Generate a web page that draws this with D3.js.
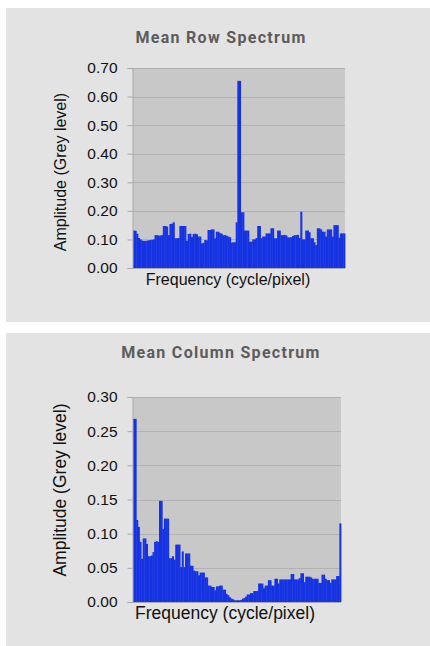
<!doctype html>
<html lang="en">
<head>
    <meta charset="utf-8">
    <title>Mean spectra</title>
    <style>
        body { margin: 0; background: #fff; }
        svg { display: block; }
    </style>
</head>
<body>
<svg id="chart" width="430" height="646"></svg>
<script src="https://d3js.org/d3.v7.min.js"></script>
<script>
    // mean row spectrum amplitudes (128 frequency bins)
    var rowValues = [
        0.131, 0.13, 0.12, 0.105, 0.10, 0.096, 0.095, 0.095, 0.096, 0.097,
        0.098, 0.099, 0.10, 0.115, 0.115, 0.113, 0.114, 0.115, 0.147, 0.147,
        0.145, 0.115, 0.154, 0.155, 0.16, 0.104, 0.104, 0.105, 0.147, 0.147,
        0.147, 0.147, 0.095, 0.119, 0.12, 0.108, 0.119, 0.12, 0.118, 0.11,
        0.11, 0.086, 0.088, 0.098, 0.097, 0.133, 0.133, 0.135, 0.135, 0.104,
        0.127, 0.127, 0.122, 0.12, 0.115, 0.115, 0.113, 0.11, 0.108, 0.089,
        0.09, 0.09, 0.16, 0.655, 0.655, 0.195, 0.195, 0.131, 0.131, 0.131,
        0.092, 0.092, 0.10, 0.10, 0.105, 0.147, 0.147, 0.104, 0.11, 0.11,
        0.121, 0.121, 0.121, 0.139, 0.139, 0.104, 0.104, 0.131, 0.131, 0.115,
        0.115, 0.116, 0.114, 0.107, 0.107, 0.108, 0.112, 0.115, 0.115, 0.116,
        0.105, 0.197, 0.10, 0.10, 0.131, 0.131, 0.125, 0.104, 0.104, 0.09,
        0.08, 0.139, 0.139, 0.135, 0.127, 0.127, 0.11, 0.135, 0.135, 0.135,
        0.11, 0.15, 0.15, 0.15, 0.106, 0.121, 0.121, 0.121
    ];

    // mean column spectrum amplitudes (128 frequency bins)
    var colValues = [
        0.268, 0.268, 0.12, 0.11, 0.088, 0.063, 0.093, 0.093, 0.085, 0.067,
        0.067, 0.068, 0.073, 0.088, 0.089, 0.088, 0.148, 0.148, 0.107, 0.122,
        0.122, 0.122, 0.064, 0.064, 0.067, 0.062, 0.084, 0.084, 0.084, 0.051,
        0.074, 0.051, 0.071, 0.071, 0.071, 0.053, 0.053, 0.046, 0.045, 0.045,
        0.039, 0.043, 0.043, 0.043, 0.036, 0.036, 0.024, 0.024, 0.022, 0.022,
        0.017, 0.023, 0.023, 0.024, 0.024, 0.018, 0.018, 0.012, 0.010, 0.007,
        0.005, 0.004, 0.0025, 0.0025, 0.0025, 0.0025, 0.003, 0.005, 0.006, 0.008,
        0.011, 0.011, 0.013, 0.013, 0.016, 0.016, 0.016, 0.027, 0.027, 0.027,
        0.020, 0.024, 0.024, 0.032, 0.032, 0.024, 0.024, 0.034, 0.034, 0.027,
        0.033, 0.033, 0.033, 0.033, 0.033, 0.033, 0.033, 0.041, 0.041, 0.033,
        0.033, 0.033, 0.035, 0.042, 0.042, 0.029, 0.037, 0.037, 0.037, 0.036,
        0.034, 0.034, 0.034, 0.034, 0.028, 0.028, 0.040, 0.040, 0.034, 0.032,
        0.032, 0.028, 0.033, 0.033, 0.033, 0.038, 0.038, 0.115
    ];

    var rowTicks = [0, 0.1, 0.2, 0.3, 0.4, 0.5, 0.6, 0.7];
    var colTicks = [0, 0.05, 0.1, 0.15, 0.2, 0.25, 0.3];

    var titles = ["Mean Row Spectrum", "Mean Column Spectrum"];
    var yLabel = "Amplitude (Grey level)";
    var xLabel = "Frequency (cycle/pixel)";

    var svg = d3.select("#chart");

    var barColour = "#1533e3";
    var labelFont = "'Liberation Sans', Arial, sans-serif";

    function drawPanel(cfg) {
        var g = svg.append("g");

        // panel background
        g.append("rect")
            .attr("x", 6).attr("y", cfg.top)
            .attr("width", 424).attr("height", cfg.height)
            .attr("fill", "#e3e3e3");

        g.append("text")
            .attr("x", 221).attr("y", cfg.titleY)
            .attr("text-anchor", "middle")
            .style("font-family", "Roboto, 'Noto Sans', sans-serif")
            .style("font-weight", "bold")
            .style("font-size", "16px")
            .style("letter-spacing", "1.3px")
            .style("fill", "#5c5c5c")
            .text(cfg.title);

        var x = d3.scaleBand()
            .domain(d3.range(cfg.values.length))
            .range([cfg.left, cfg.right])
            .padding(0);

        var y = d3.scaleLinear()
            .domain([0, cfg.max])
            .range([cfg.bottom, cfg.plotTop]);

        // plot background
        g.append("rect")
            .attr("x", cfg.left).attr("y", cfg.plotTop)
            .attr("width", cfg.right - cfg.left)
            .attr("height", cfg.bottom - cfg.plotTop)
            .attr("fill", "#c8c8c8");

        // grid
        g.selectAll(".grid")
            .data(cfg.ticks)
            .enter().append("line")
            .attr("x1", cfg.left).attr("x2", cfg.right)
            .attr("y1", function (d) { return Math.round(y(d)) + 0.5; })
            .attr("y2", function (d) { return Math.round(y(d)) + 0.5; })
            .style("stroke", "#b2b2b2")
            .style("stroke-width", 1);

        // bars
        g.selectAll(".bar")
            .data(cfg.values)
            .enter().append("rect")
            .attr("x", function (d, i) { return x(i); })
            .attr("width", x.bandwidth() + 0.4)
            .attr("y", function (d) { return y(d); })
            .attr("height", function (d) { return cfg.bottom - y(d); })
            .attr("fill", barColour);

        // y axis
        var axis = d3.axisLeft(y)
            .tickValues(cfg.ticks)
            .tickFormat(d3.format(".2f"))
            .tickSize(5)
            .tickPadding(10);

        var ax = g.append("g")
            .attr("transform", "translate(" + (cfg.left - 0.5) + ",0)")
            .call(axis);
        ax.select(".domain").style("stroke", "#a8a8a8");
        ax.selectAll(".tick line").style("stroke", "#a8a8a8");
        ax.selectAll(".tick text")
            .style("font-family", labelFont)
            .style("font-size", "15.5px")
            .style("fill", "#111");

        // baseline
        g.append("line")
            .attr("x1", cfg.left).attr("x2", cfg.right)
            .attr("y1", cfg.bottom + 0.5).attr("y2", cfg.bottom + 0.5)
            .style("stroke", "#a8a8a8");

        g.append("text")
            .attr("transform", "translate(" + cfg.yLabelX + "," + cfg.yLabelY + ") rotate(-90)")
            .attr("text-anchor", "middle")
            .style("font-family", labelFont)
            .style("font-size", cfg.labelSize + "px")
            .style("fill", "#111")
            .text(yLabel);

        g.append("text")
            .attr("x", cfg.xLabelX).attr("y", cfg.xLabelY)
            .attr("text-anchor", "middle")
            .style("font-family", labelFont)
            .style("font-size", cfg.labelSize + "px")
            .style("fill", "#111")
            .text(xLabel);
    }

    drawPanel({
        title: titles[0], values: rowValues, ticks: rowTicks, max: 0.7,
        top: 8, height: 314, titleY: 43, labelSize: 16,
        left: 133, right: 345, plotTop: 68, bottom: 268,
        yLabelX: 66, yLabelY: 172, xLabelX: 228, xLabelY: 285
    });

    drawPanel({
        title: titles[1], values: colValues, ticks: colTicks, max: 0.3,
        top: 333, height: 313, titleY: 358, labelSize: 17.5,
        left: 133, right: 341, plotTop: 397, bottom: 602,
        yLabelX: 66, yLabelY: 490, xLabelX: 225, xLabelY: 619
    });
</script>
</body>
</html>
